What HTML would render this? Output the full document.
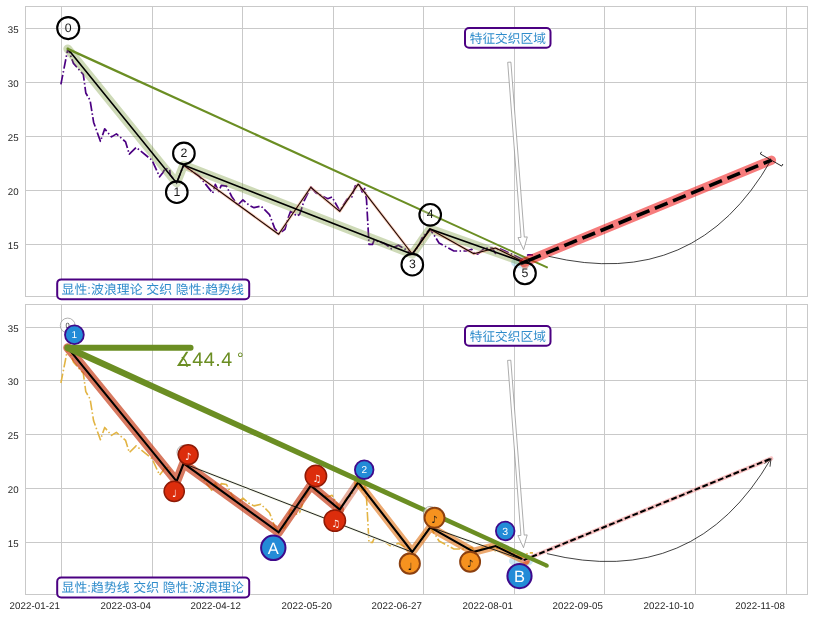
<!DOCTYPE html>
<html lang="zh"><head><meta charset="utf-8"><title>chart</title><style>html,body{margin:0;padding:0;background:#fff}body{width:813px;height:617px;overflow:hidden;font-family:"Liberation Sans",sans-serif}</style></head><body><svg width="813" height="617" viewBox="0 0 813 617" style="display:block;font-family:'Liberation Sans',sans-serif;will-change:transform;text-rendering:geometricPrecision">
<rect width="813" height="617" fill="#fff"/>
<g stroke="#c9c9c9" stroke-width="1" fill="none">
<line x1="61.50" y1="6.5" x2="61.50" y2="296.5"/>
<line x1="152.50" y1="6.5" x2="152.50" y2="296.5"/>
<line x1="242.50" y1="6.5" x2="242.50" y2="296.5"/>
<line x1="333.50" y1="6.5" x2="333.50" y2="296.5"/>
<line x1="423.50" y1="6.5" x2="423.50" y2="296.5"/>
<line x1="514.50" y1="6.5" x2="514.50" y2="296.5"/>
<line x1="604.50" y1="6.5" x2="604.50" y2="296.5"/>
<line x1="695.50" y1="6.5" x2="695.50" y2="296.5"/>
<line x1="786.50" y1="6.5" x2="786.50" y2="296.5"/>
<line x1="25.5" y1="28.50" x2="807.5" y2="28.50"/>
<line x1="25.5" y1="82.50" x2="807.5" y2="82.50"/>
<line x1="25.5" y1="136.50" x2="807.5" y2="136.50"/>
<line x1="25.5" y1="190.50" x2="807.5" y2="190.50"/>
<line x1="25.5" y1="244.50" x2="807.5" y2="244.50"/>
<rect x="25.5" y="6.5" width="782.0" height="290.0" stroke-width="1"/>
</g>
<g font-size="9.7" letter-spacing="0.1" fill="#262626" text-anchor="end">
<text x="18.8" y="32.7">35</text>
<text x="18.8" y="86.7">30</text>
<text x="18.8" y="140.7">25</text>
<text x="18.8" y="194.7">20</text>
<text x="18.8" y="248.7">15</text>
</g>
<g stroke="#c9c9c9" stroke-width="1" fill="none">
<line x1="61.50" y1="304.5" x2="61.50" y2="594.5"/>
<line x1="152.50" y1="304.5" x2="152.50" y2="594.5"/>
<line x1="242.50" y1="304.5" x2="242.50" y2="594.5"/>
<line x1="333.50" y1="304.5" x2="333.50" y2="594.5"/>
<line x1="423.50" y1="304.5" x2="423.50" y2="594.5"/>
<line x1="514.50" y1="304.5" x2="514.50" y2="594.5"/>
<line x1="604.50" y1="304.5" x2="604.50" y2="594.5"/>
<line x1="695.50" y1="304.5" x2="695.50" y2="594.5"/>
<line x1="786.50" y1="304.5" x2="786.50" y2="594.5"/>
<line x1="25.5" y1="327.50" x2="807.5" y2="327.50"/>
<line x1="25.5" y1="380.50" x2="807.5" y2="380.50"/>
<line x1="25.5" y1="434.50" x2="807.5" y2="434.50"/>
<line x1="25.5" y1="488.50" x2="807.5" y2="488.50"/>
<line x1="25.5" y1="542.50" x2="807.5" y2="542.50"/>
<rect x="25.5" y="304.5" width="782.0" height="290.0" stroke-width="1"/>
</g>
<g font-size="9.7" letter-spacing="0.1" fill="#262626" text-anchor="end">
<text x="18.8" y="331.7">35</text>
<text x="18.8" y="384.7">30</text>
<text x="18.8" y="438.7">25</text>
<text x="18.8" y="492.7">20</text>
<text x="18.8" y="546.7">15</text>
</g>
<g font-size="9.7" letter-spacing="0.1" fill="#262626" text-anchor="end">
<text x="60.1" y="608.8">2022-01-21</text>
<text x="151.1" y="608.8">2022-03-04</text>
<text x="241.1" y="608.8">2022-04-12</text>
<text x="332.1" y="608.8">2022-05-20</text>
<text x="422.1" y="608.8">2022-06-27</text>
<text x="513.1" y="608.8">2022-08-01</text>
<text x="603.1" y="608.8">2022-09-05</text>
<text x="694.1" y="608.8">2022-10-10</text>
<text x="785.1" y="608.8">2022-11-08</text>
</g>
<defs><clipPath id="c1"><rect x="25.5" y="6.5" width="782.0" height="290.0"/></clipPath>
<clipPath id="c2"><rect x="25.5" y="304.5" width="782.0" height="290.0"/></clipPath></defs>
<g clip-path="url(#c1)">
<ellipse cx="522" cy="262.5" rx="11" ry="6" fill="#9fd3ea" fill-opacity="0.55"/>
<polyline points="60.9,84.3 67.9,48.6 73.5,63.4 83.3,74.5 85.8,93.0 90.1,100.3 93.6,122.2 100.4,141.3 104.7,128.9 111.5,136.9 116.4,133.9 125.6,141.9 129.3,154.2 136.1,147.4 152.1,160.3 159.6,176.8 163.0,172.5 165.2,168.3 169.6,169.6 170.2,174.8 176.6,183.0 183.6,165.1 190.0,170.0 198.9,175.8 212.7,193.1 215.3,184.4 218.7,191.3 221.3,185.3 226.5,186.2 231.7,196.5 237.7,205.1 242.9,199.9 248.9,205.1 254.0,207.7 260.9,206.0 269.5,214.6 274.7,228.4 279.0,233.5 285.0,229.2 288.5,217.0 290.5,211.5 293.5,213.0 296.5,216.0 299.5,214.5 301.0,210.5 304.0,201.0 310.9,187.0 315.7,192.7 327.7,198.7 332.0,197.0 339.8,210.8 346.7,199.6 351.8,197.0 355.3,185.8 359.6,185.0 362.2,191.9 364.7,188.4 366.5,199.6 369.0,244.4 372.5,244.4 374.2,240.0 384.5,243.5 391.4,248.7 398.3,245.2 408.7,251.3 412.1,253.9 418.0,247.0 422.0,238.0 429.9,228.9 435.4,237.0 439.0,243.0 453.9,251.0 466.0,251.0 471.7,249.3 474.8,254.1 477.7,254.1 484.4,248.2 492.5,248.2 495.4,253.4 498.4,248.2 505.0,251.0 519.0,257.8 523.0,260.0 527.9,254.9 533.0,254.9" fill="none" stroke="#4b0082" stroke-width="1.7" stroke-dasharray="9.6 2.4 1.5 2.4" stroke-linejoin="round"/>
<polyline points="67.7,48.8 176.6,183.0 183.6,165.1 412.3,254.2 429.9,228.9 523.7,262.2" fill="none" stroke="#6b8e23" stroke-opacity="0.33" stroke-width="8.8" stroke-linejoin="round" stroke-linecap="round"/>
<polyline points="183.6,165.1 278.6,234.2 310.8,187.3 339.7,211.4 358.2,184.1 412.2,254.0 430.3,229.3 473.8,253.8 495.6,248.0 525.9,263.0" fill="none" stroke="#f0a080" stroke-opacity="0.55" stroke-width="2.8" stroke-linejoin="round"/>
<polyline points="183.6,165.1 278.6,234.2 310.8,187.3 339.7,211.4 358.2,184.1 412.2,254.0 430.3,229.3 473.8,253.8 495.6,248.0 525.9,263.0" fill="none" stroke="#1a0500" stroke-width="1.1" stroke-linejoin="round"/>
<polyline points="67.7,48.8 176.6,183.0 183.6,165.1 412.3,254.2 429.9,228.9 523.7,262.2" fill="none" stroke="#000" stroke-width="1.6" stroke-linejoin="miter"/>
<polygon points="67.2,49.9 546.7,268.2 547.5,266.6 68.2,47.7" fill="#6b8e23"/>
<circle cx="67.7" cy="48.8" r="1.25" fill="#6b8e23"/><circle cx="547.1" cy="267.4" r="0.85" fill="#6b8e23"/>
<circle cx="525.0" cy="264.2" r="4.2" fill="#e8502c" fill-opacity="0.6"/>
<line x1="523.7" y1="262.4" x2="771.5" y2="160.2" stroke="#ee1111" stroke-opacity="0.55" stroke-width="9.2" stroke-linecap="round"/>
<line x1="523.7" y1="262.4" x2="771.5" y2="160.2" stroke="#000" stroke-width="3.6" stroke-dasharray="13.7 5.9" stroke-dashoffset="14.9"/>
<line x1="520.8" y1="263.6" x2="528" y2="260.6" stroke="#000" stroke-width="3.4"/>
<path d="M548.6,256.3 Q695.9,291.6 771.0,160.0" fill="none" stroke="#111" stroke-width="0.8"/>
<polyline points="782.9,164.0 781.7,166.1 760.3,153.9 761.5,151.8" fill="none" stroke="#111" stroke-width="0.9"/>
</g>
<polygon points="507.7,62.3 521.0,237.4 518.0,237.6 523.6,249.7 527.3,236.9 524.3,237.1 510.9,62.1" fill="#fff" stroke="#8a8a8a" stroke-width="0.7" stroke-linejoin="miter"/>
<circle cx="68.2" cy="28.1" r="11.0" fill="#fff" fill-opacity="0.2" stroke="#000" stroke-width="2.1"/>
<text x="68.2" y="31.5" font-size="12.3" fill="#1a1a1a" text-anchor="middle">0</text>
<circle cx="176.8" cy="192.2" r="10.8" fill="#fff" fill-opacity="0.2" stroke="#000" stroke-width="2.1"/>
<text x="176.8" y="195.6" font-size="12.3" fill="#1a1a1a" text-anchor="middle">1</text>
<circle cx="183.9" cy="153.4" r="10.8" fill="#fff" fill-opacity="0.2" stroke="#000" stroke-width="2.1"/>
<text x="183.9" y="156.8" font-size="12.3" fill="#1a1a1a" text-anchor="middle">2</text>
<circle cx="412.3" cy="264.7" r="10.8" fill="#fff" fill-opacity="0.2" stroke="#000" stroke-width="2.1"/>
<text x="412.3" y="268.1" font-size="12.3" fill="#1a1a1a" text-anchor="middle">3</text>
<circle cx="430.2" cy="214.8" r="10.8" fill="#fff" fill-opacity="0.2" stroke="#000" stroke-width="2.1"/>
<text x="430.2" y="218.2" font-size="12.3" fill="#1a1a1a" text-anchor="middle">4</text>
<circle cx="524.9" cy="273.3" r="10.9" fill="#fff" fill-opacity="0.2" stroke="#000" stroke-width="2.1"/>
<text x="524.9" y="276.7" font-size="12.3" fill="#1a1a1a" text-anchor="middle">5</text>
<rect x="465.0" y="28.0" width="85.5" height="19.8" rx="4" ry="4" fill="#fdfdff" stroke="#4b0082" stroke-width="2"/>
<text x="507.8" y="42.5" font-size="12.7" fill="#2f8ccb" text-anchor="middle" style="font-family:'Liberation Sans','Noto Sans CJK SC',sans-serif">特征交织区域</text>
<rect x="57.2" y="279.4" width="192.0" height="19.8" rx="4" ry="4" fill="#fdfdff" stroke="#4b0082" stroke-width="2"/>
<text x="61.5" y="293.9" font-size="12.9" fill="#2f8ccb" textLength="182.4" lengthAdjust="spacing" style="font-family:'Liberation Sans','Noto Sans CJK SC',sans-serif">显性:波浪理论 交织 隐性:趋势线</text>
<g clip-path="url(#c2)">
<ellipse cx="521" cy="560.9" rx="12" ry="6" fill="#9fd3ea" fill-opacity="0.55"/>
<polyline points="60.9,383.0 67.9,347.5 73.5,362.2 83.3,373.3 85.8,391.7 90.1,399.0 93.6,420.8 100.4,439.8 104.7,427.4 111.5,435.4 116.4,432.4 125.6,440.4 129.3,452.6 136.1,445.9 152.1,458.7 159.6,475.1 163.0,470.8 165.2,466.7 169.6,468.0 170.2,473.1 176.6,481.3 183.6,463.5 190.0,468.3 198.9,474.1 212.7,491.3 215.3,482.7 218.7,489.6 221.3,483.6 226.5,484.5 231.7,494.7 237.7,503.3 242.9,498.1 248.9,503.3 254.0,505.9 260.9,504.2 269.5,512.7 274.7,526.5 279.0,531.6 285.0,527.3 288.5,515.1 290.5,509.7 293.5,511.2 296.5,514.1 299.5,512.6 301.0,508.7 304.0,499.2 310.9,485.3 315.7,490.9 327.7,496.9 332.0,495.2 339.8,509.0 346.7,497.8 351.8,495.2 355.3,484.1 359.6,483.3 362.2,490.1 364.7,486.7 366.5,497.8 369.0,542.4 372.5,542.4 374.2,538.0 384.5,541.5 391.4,546.7 398.3,543.2 408.7,549.3 412.1,551.9 418.0,545.0 422.0,536.0 429.9,527.0 435.4,535.0 439.0,541.0 453.9,549.0 466.0,549.0 471.7,547.3 474.8,552.1 477.7,552.1 484.4,546.2 492.5,546.2 495.4,551.4 498.4,546.2 505.0,549.0 519.0,555.7 523.0,557.9 527.9,552.9 533.0,552.9" fill="none" stroke="#e2b443" stroke-width="1.6" stroke-dasharray="9.6 2.4 1.5 2.4" stroke-linejoin="round"/>
<polyline points="67.7,347.7 176.6,481.3 183.6,463.5 412.3,552.2 429.9,527.0 523.7,560.1" fill="none" stroke="#f3f6e4" stroke-width="2.6"/>
<polyline points="67.7,347.7 176.6,481.3 183.6,463.5 278.6,532.3 310.8,485.6 339.7,509.6" fill="none" stroke="#c8401c" stroke-opacity="0.70" stroke-width="9.0" stroke-linejoin="round" stroke-linecap="round"/>
<polyline points="339.7,509.6 358.2,482.4" fill="none" stroke="#c8401c" stroke-opacity="0.42" stroke-width="8.6" stroke-linejoin="round" stroke-linecap="round"/>
<polyline points="358.2,482.4 412.2,552.0 430.3,527.4 473.8,551.8 495.6,546.0 525.9,560.9" fill="none" stroke="#e07010" stroke-opacity="0.6" stroke-width="8.2" stroke-linejoin="round" stroke-linecap="round"/>
<polyline points="67.7,347.7 176.6,481.3 183.6,463.5 412.3,552.2 429.9,527.0 523.7,560.1" fill="none" stroke="#151515" stroke-width="0.95"/>
<polyline points="67.7,347.7 176.6,481.3 183.6,463.5 278.6,532.3 310.8,485.6 339.7,509.6 358.2,482.4 412.2,552.0 430.3,527.4 473.8,551.8 495.6,546.0 525.9,560.9" fill="none" stroke="#000" stroke-width="2.1" stroke-linejoin="miter"/>
<circle cx="525.8" cy="561.2" r="3.2" fill="#e8502c" fill-opacity="0.6"/>
<line x1="523.7" y1="560.1" x2="771.2" y2="458.5" stroke="#f4a8a8" stroke-opacity="0.7" stroke-width="4.2" stroke-linecap="round"/>
<line x1="523.7" y1="560.1" x2="771.2" y2="458.5" stroke="#000" stroke-width="2.0" stroke-dasharray="5.8 2.6"/>
<polygon points="66.3,350.7 546.0,567.6 547.6,563.8 69.1,344.7" fill="#6b8e23"/>
<circle cx="67.7" cy="347.7" r="3.30" fill="#6b8e23"/><circle cx="546.8" cy="565.7" r="2.05" fill="#6b8e23"/>
<line x1="67.7" y1="347.8" x2="190.6" y2="347.8" stroke="#6b8e23" stroke-width="5.9" stroke-linecap="round"/>
<path d="M546.9,553.6 Q694.6,590.1 771.0,458.6" fill="none" stroke="#111" stroke-width="0.8"/>
<polyline points="770.0,466.7 771.0,458.6 764.5,463.5" fill="none" stroke="#111" stroke-width="0.8"/>
</g>
<polygon points="507.6,360.4 520.9,535.4 517.9,535.6 523.5,547.7 527.2,534.9 524.2,535.1 510.8,360.2" fill="#fff" stroke="#8a8a8a" stroke-width="0.7" stroke-linejoin="miter"/>
<text x="175.2" y="366" font-size="19.6" fill="#6b8e23" style="font-family:'DejaVu Sans',sans-serif">∡</text>
<text x="192.2" y="366" font-size="19.6" fill="#6b8e23" letter-spacing="0.6">44.4</text>
<text x="237.0" y="364.2" font-size="16.5" fill="#6b8e23">°</text>
<circle cx="67.7" cy="325.5" r="7.4" fill="#fff" fill-opacity="0.6" stroke="#8c8c8c" stroke-width="0.7"/>
<text x="67.7" y="328.2" font-size="7.5" fill="#333" text-anchor="middle">0</text>
<circle cx="184.0" cy="452.2" r="7.0" fill="#fff" fill-opacity="0.6" stroke="#8c8c8c" stroke-width="0.7"/>
<circle cx="74.4" cy="334.8" r="9.4" fill="#238bd7" stroke="#3f0a8c" stroke-width="1.8"/>
<text x="74.4" y="338.4" font-size="10.0" fill="#fff" text-anchor="middle">1</text>
<circle cx="174.2" cy="491.3" r="10.1" fill="#dc2d0c" stroke="#8e1a06" stroke-width="1.5"/>
<text x="174.4" y="497.2" font-size="10" fill="#fff" text-anchor="middle" style="font-family:'DejaVu Sans',sans-serif">♩</text>
<circle cx="188.2" cy="454.6" r="9.9" fill="#dc2d0c" stroke="#8e1a06" stroke-width="1.5"/>
<text x="188.2" y="459.9" font-size="10" fill="#fff" text-anchor="middle" style="font-family:'DejaVu Sans',sans-serif">♪</text>
<circle cx="273.3" cy="547.8" r="12.2" fill="#238bd7" stroke="#3f0a8c" stroke-width="2.0"/>
<text x="273.3" y="554.2" font-size="16.5" fill="#fff" text-anchor="middle">A</text>
<circle cx="315.9" cy="476.0" r="10.7" fill="#dc2d0c" stroke="#8e1a06" stroke-width="1.5"/>
<text x="316.9" y="482.0" font-size="10" fill="#fff" text-anchor="middle" style="font-family:'DejaVu Sans',sans-serif">♫</text>
<circle cx="334.8" cy="520.6" r="10.7" fill="#dc2d0c" stroke="#8e1a06" stroke-width="1.5"/>
<text x="335.8" y="526.6" font-size="10" fill="#fff" text-anchor="middle" style="font-family:'DejaVu Sans',sans-serif">♫</text>
<circle cx="364.2" cy="469.7" r="9.3" fill="#238bd7" stroke="#3f0a8c" stroke-width="1.8"/>
<text x="364.2" y="473.3" font-size="10.0" fill="#fff" text-anchor="middle">2</text>
<circle cx="430.0" cy="513.0" r="6.5" fill="#fff" fill-opacity="0.6" stroke="#8c8c8c" stroke-width="0.7"/>
<circle cx="409.8" cy="563.6" r="10.1" fill="#f6921f" stroke="#8b4010" stroke-width="1.9"/>
<text x="410.0" y="569.5" font-size="10" fill="#111" text-anchor="middle" style="font-family:'DejaVu Sans',sans-serif">♩</text>
<circle cx="434.5" cy="517.8" r="10.0" fill="#f6921f" stroke="#8b4010" stroke-width="1.9"/>
<text x="434.5" y="523.1" font-size="10" fill="#111" text-anchor="middle" style="font-family:'DejaVu Sans',sans-serif">♪</text>
<circle cx="470.1" cy="561.7" r="10.0" fill="#f6921f" stroke="#8b4010" stroke-width="1.9"/>
<text x="470.1" y="567.0" font-size="10" fill="#111" text-anchor="middle" style="font-family:'DejaVu Sans',sans-serif">♪</text>
<circle cx="505.2" cy="531.0" r="9.3" fill="#238bd7" stroke="#3f0a8c" stroke-width="1.8"/>
<text x="505.2" y="534.8" font-size="10.5" fill="#fff" text-anchor="middle">3</text>
<circle cx="519.5" cy="576.1" r="12.1" fill="#238bd7" stroke="#3f0a8c" stroke-width="2.0"/>
<text x="519.5" y="582.3" font-size="16.5" fill="#fff" text-anchor="middle">B</text>
<rect x="465.0" y="326.0" width="85.5" height="19.8" rx="4" ry="4" fill="#fdfdff" stroke="#4b0082" stroke-width="2"/>
<text x="507.8" y="340.5" font-size="12.7" fill="#2f8ccb" text-anchor="middle" style="font-family:'Liberation Sans','Noto Sans CJK SC',sans-serif">特征交织区域</text>
<rect x="57.2" y="577.6" width="192.0" height="19.8" rx="4" ry="4" fill="#fdfdff" stroke="#4b0082" stroke-width="2"/>
<text x="61.5" y="592.1" font-size="12.9" fill="#2f8ccb" textLength="182.4" lengthAdjust="spacing" style="font-family:'Liberation Sans','Noto Sans CJK SC',sans-serif">显性:趋势线 交织 隐性:波浪理论</text>
</svg></body></html>
